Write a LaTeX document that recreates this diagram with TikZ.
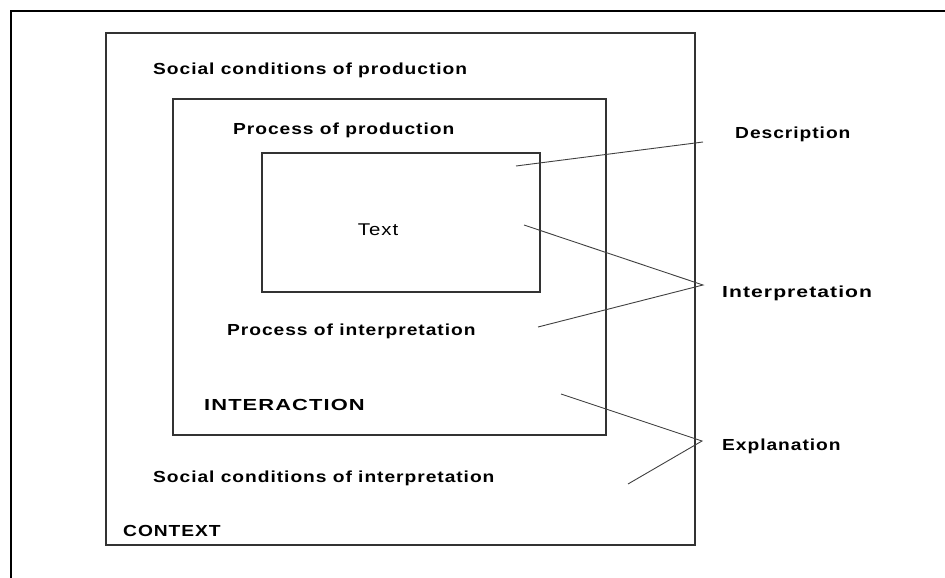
\documentclass[tikz,border=0pt]{standalone}
\usepackage{fontspec}
\setmainfont{Liberation Sans}
\newfontfamily\wideface[FakeStretch=1.2,LetterSpace=6,
  BoldFont={Liberation Sans Bold}]{Liberation Sans}
\begin{document}
\begin{tikzpicture}[x=1pt,y=-1pt,
  frame/.style={draw=black,line width=1.3pt},
  box/.style={draw=black!80,line width=1.2pt},
  link/.style={draw=black!75,line width=0.9pt},
  lbl/.style={anchor=west,inner sep=0pt,font=\wideface\fontsize{16}{19}\selectfont\bfseries},
  plainlbl/.style={anchor=center,inner sep=0pt,font=\wideface\fontsize{17}{20}\selectfont}]
\useasboundingbox (0,0) rectangle (945,578);
% page frame: top and left edges only
\draw[frame] (11,578) -- (11,11) -- (945,11);
% nested boxes
\draw[box] (106,33) rectangle (695,545);
\draw[box] (173,99) rectangle (606,435);
\draw[box] (262,153) rectangle (540,292);
% labels inside the boxes
\node[lbl] (scp) at (153,70) {Social conditions of production};
\node[lbl] (pp) at (233,130) {Process of production};
\node[plainlbl] (txt) at (378,230) {Text};
\node[lbl] (pi) at (227,331) {Process of interpretation};
\node[lbl] (inter) at (204,405) {\scalebox{1.14}[1]{INTERACTION}};
\node[lbl] (sci) at (153,478) {Social conditions of interpretation};
\node[lbl] (ctx) at (123,531) {CONTEXT};
% level labels on the right
\node[lbl] (desc) at (735,134) {Description};
\node[lbl] (interp) at (722,293) {\scalebox{1.1}[1]{Interpretation}};
\node[lbl] (expl) at (722,446) {Explanation};
% connector end points
\coordinate (d1) at (516,166);
\coordinate (d2) at (703,142);
\coordinate (i1) at (524,225);
\coordinate (i2) at (703,285);
\coordinate (i3) at (538,327);
\coordinate (e1) at (561,394);
\coordinate (e2) at (702,441);
\coordinate (e3) at (628,484);
\draw[link] (d1) -- (d2);
\draw[link] (i1) -- (i2) -- (i3);
\draw[link] (e1) -- (e2) -- (e3);
\end{tikzpicture}
\end{document}
